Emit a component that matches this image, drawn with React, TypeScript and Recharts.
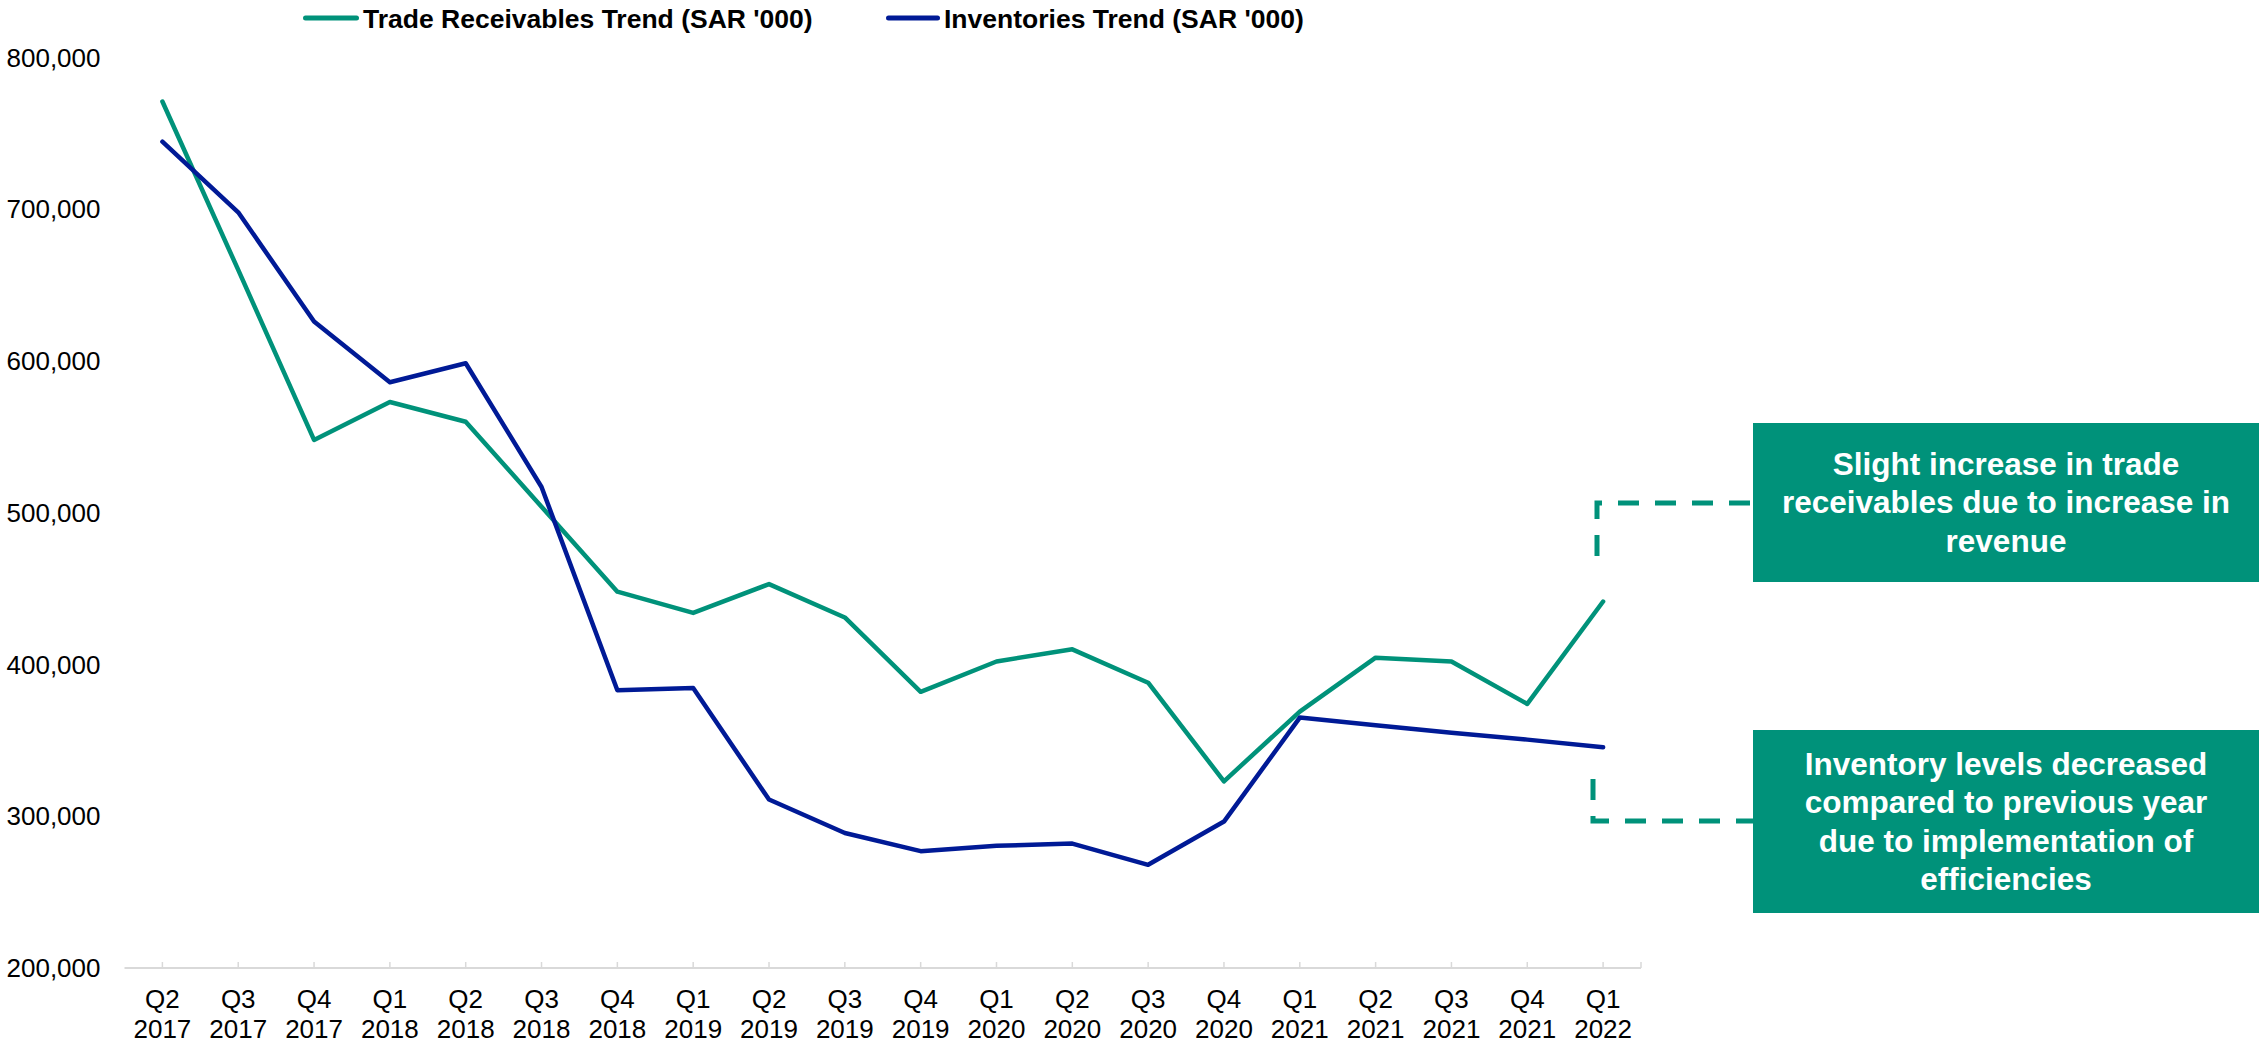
import React from 'react';
import { LineChart, Line, XAxis, YAxis } from 'recharts';

const quarters = [
  'Q2 2017', 'Q3 2017', 'Q4 2017', 'Q1 2018', 'Q2 2018', 'Q3 2018', 'Q4 2018',
  'Q1 2019', 'Q2 2019', 'Q3 2019', 'Q4 2019', 'Q1 2020', 'Q2 2020', 'Q3 2020',
  'Q4 2020', 'Q1 2021', 'Q2 2021', 'Q3 2021', 'Q4 2021', 'Q1 2022',
];

const receivables = [
  771000, 660000, 548000, 573000, 560000, 504000, 448000,
  434000, 453000, 431000, 382000, 402000, 410000, 388000,
  323000, 369000, 404500, 402000, 374000, 441500,
];

const inventories = [
  744500, 698000, 626000, 586000, 598500, 517000, 383000,
  384500, 311000, 289000, 277000, 280500, 282000, 268000,
  296500, 365000, 360000, 355000, 350500, 345500,
];

const yTicks = [200000, 300000, 400000, 500000, 600000, 700000, 800000];

const seriesNames = ["Trade Receivables Trend (SAR '000)", "Inventories Trend (SAR '000)"];

const note1 = ['Slight increase in trade', 'receivables due to increase in', 'revenue'];
const note2 = ['Inventory levels decreased', 'compared to previous year', 'due to implementation of', 'efficiencies'];

const GREEN = '#00927A';
const BLUE = '#001A96';
const FONT = '"Liberation Sans", Arial, Helvetica, sans-serif';
const W = 2259;
const H = 1045;

const data = quarters.map((q, i) => ({
  q,
  receivables: receivables[i],
  inventories: inventories[i],
}));

const HALF_BAND = 37.9;

function QuarterTick(props: any) {
  const { x, y, payload, index } = props;
  const parts = String(payload.value).split(' ');
  return (
    <g>
      <line x1={x} x2={x} y1={y - 6} y2={y} stroke="#d9d9d9" strokeWidth={1.5} />
      {index === quarters.length - 1 && (
        <line x1={x + HALF_BAND} x2={x + HALF_BAND} y1={y - 6} y2={y} stroke="#d9d9d9" strokeWidth={1.5} />
      )}
      <text x={x} y={y + 40} textAnchor="middle" fontSize={26} fontFamily={FONT} fill="#000">
        {parts[0]}
      </text>
      <text x={x} y={y + 70} textAnchor="middle" fontSize={26} fontFamily={FONT} fill="#000">
        {parts[1]}
      </text>
    </g>
  );
}

const boxStyle: React.CSSProperties = {
  position: 'absolute',
  left: 1753,
  width: W - 1753,
  background: GREEN,
  color: '#fff',
  fontFamily: FONT,
  fontWeight: 'bold',
  fontSize: 31.5,
  lineHeight: '38.4px',
  textAlign: 'center',
  display: 'flex',
  flexDirection: 'column',
  justifyContent: 'center',
  alignItems: 'center',
  whiteSpace: 'nowrap',
};

export default function App() {
  return (
    <div style={{ position: 'absolute', left: 0, top: 0, width: W, height: H, background: '#fff', overflow: 'hidden' }}>
      <LineChart
        width={W}
        height={H}
        data={data}
        margin={{ top: 57.5, right: W - 1641, bottom: 0, left: 0 }}
      >
        <XAxis
          dataKey="q"
          interval={0}
          height={77}
          padding={{ left: HALF_BAND, right: HALF_BAND }}
          axisLine={{ stroke: '#d9d9d9', strokeWidth: 2 }}
          tickLine={false}
          tickSize={0}
          tickMargin={0}
          tick={<QuarterTick />}
        />
        <YAxis
          width={124.5}
          domain={[200000, 800000]}
          ticks={yTicks}
          axisLine={false}
          tickLine={false}
          tickSize={0}
          tickMargin={24}
          tick={{ fontSize: 26, fontFamily: FONT, fill: '#000' }}
          tickFormatter={(v: number) => v.toLocaleString('en-US')}
        />
        <Line
          type="linear"
          dataKey="receivables"
          name={seriesNames[0]}
          stroke={GREEN}
          strokeWidth={4.5}
          strokeLinejoin="round"
          strokeLinecap="round"
          dot={false}
          activeDot={false}
          isAnimationActive={false}
        />
        <Line
          type="linear"
          dataKey="inventories"
          name={seriesNames[1]}
          stroke={BLUE}
          strokeWidth={4.5}
          strokeLinejoin="round"
          strokeLinecap="round"
          dot={false}
          activeDot={false}
          isAnimationActive={false}
        />
      </LineChart>

      <svg
        width={W}
        height={H}
        style={{ position: 'absolute', left: 0, top: 0, pointerEvents: 'none' }}
      >
        <line x1={305.5} x2={356.5} y1={18} y2={18} stroke={GREEN} strokeWidth={5} strokeLinecap="round" />
        <text x={363} y={27.5} fontSize={26.5} fontWeight="bold" fontFamily={FONT} fill="#000">
          {seriesNames[0]}
        </text>
        <line x1={888.5} x2={937.5} y1={18} y2={18} stroke={BLUE} strokeWidth={5} strokeLinecap="round" />
        <text x={944} y={27.5} fontSize={26.5} fontWeight="bold" fontFamily={FONT} fill="#000">
          {seriesNames[1]}
        </text>

        <path
          d="M1597,556 V503 H1753"
          fill="none"
          stroke={GREEN}
          strokeWidth={5}
          strokeDasharray="21 16"
        />
        <path
          d="M1593,779 V821 H1753"
          fill="none"
          stroke={GREEN}
          strokeWidth={5}
          strokeDasharray="21 16"
        />
      </svg>

      <div style={{ ...boxStyle, top: 423, height: 582 - 423 }}>
        {note1.map((l, i) => (
          <div key={i}>{l}</div>
        ))}
      </div>
      <div style={{ ...boxStyle, top: 730, height: 913 - 730 }}>
        {note2.map((l, i) => (
          <div key={i}>{l}</div>
        ))}
      </div>
    </div>
  );
}
